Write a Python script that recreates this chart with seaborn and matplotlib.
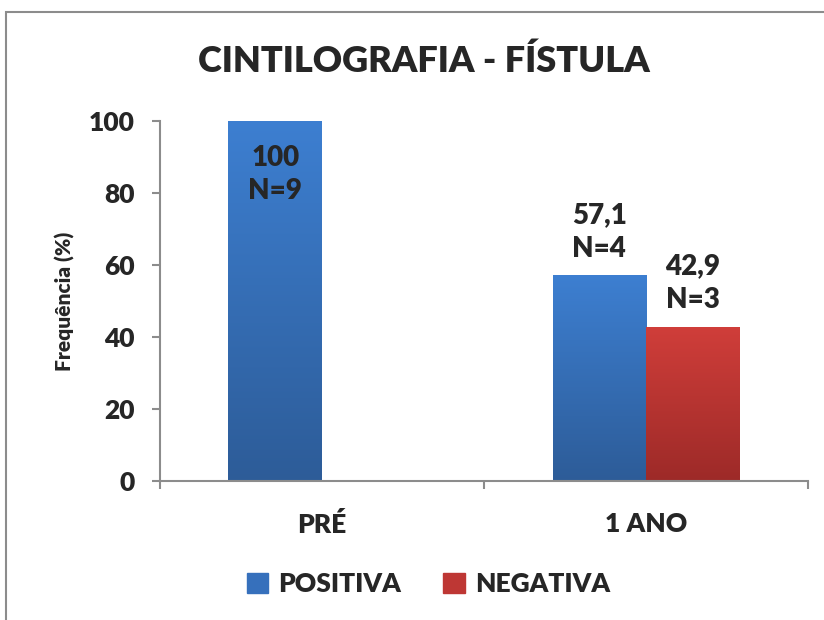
import numpy as np
import pandas as pd
import matplotlib
matplotlib.use("Agg")
import matplotlib.pyplot as plt
import seaborn as sns
from matplotlib.patches import Rectangle
from matplotlib.colors import LinearSegmentedColormap

# ---- data ----
categories = ["PRÉ", "1 ANO"]
series_names = ["POSITIVA", "NEGATIVA"]
positiva = [100, 57.1]
negativa = [0, 42.9]
n_positiva = [9, 4]
n_negativa = [0, 3]
yticks = [0, 20, 40, 60, 80, 100]
title = "CINTILOGRAFIA - FÍSTULA"
ylabel = "Frequência (%)"

df = pd.DataFrame({
    "cat": categories * 2,
    "serie": [series_names[0]] * 2 + [series_names[1]] * 2,
    "val": positiva + negativa,
    "n": n_positiva + n_negativa,
})

sns.set_theme(style="white")
plt.rcParams["font.family"] = ["Lato", "DejaVu Sans"]
W = "heavy"
plt.rcParams["font.weight"] = W

top_cols = {"POSITIVA": "#3D7FD1", "NEGATIVA": "#D03E3A"}
bot_cols = {"POSITIVA": "#2D5C98", "NEGATIVA": "#9D2A28"}
mid_cols = {"POSITIVA": "#3670BC", "NEGATIVA": "#BE3734"}

fig = plt.figure(figsize=(8.24, 6.2), dpi=100)
ax = fig.add_axes([0.194, 0.224, 0.787, 0.581])

sns.barplot(data=df, x="cat", y="val", hue="serie", order=categories,
            hue_order=series_names, palette=mid_cols, width=0.578,
            gap=0, saturation=1, ax=ax, legend=False, edgecolor="none")

# gradient overlay clipped to each bar
for cont, name in zip(ax.containers, series_names):
    cmap = LinearSegmentedColormap.from_list(name, [bot_cols[name], top_cols[name]])
    for bar in cont:
        h = bar.get_height()
        if h <= 0:
            continue
        x0 = bar.get_x()
        w = bar.get_width()
        grad = np.linspace(0, 1, 256).reshape(-1, 1)
        im = ax.imshow(grad, extent=[x0, x0 + w, 0, h], origin="lower",
                       aspect="auto", cmap=cmap, zorder=bar.get_zorder() + 0.1)
        im.set_clip_path(bar)

ax.set_xlim(-0.5, 1.5)
ax.set_ylim(0, 100)

# data labels
for cont, name in zip(ax.containers, series_names):
    sub = df[df["serie"] == name].set_index("cat").loc[categories]
    for bar, (v, n) in zip(cont, zip(sub["val"], sub["n"])):
        if v <= 0:
            continue
        txt = f"{v:g}".replace(".", ",") + f"\nN={n}"
        cx = bar.get_x() + bar.get_width() / 2
        if v >= 90:
            ax.annotate(txt, (cx, v), xytext=(0, -17), textcoords="offset points",
                        ha="center", va="top", fontsize=20, fontweight=W,
                        linespacing=1.35, zorder=5)
        else:
            ax.annotate(txt, (cx, v), xytext=(0, 10), textcoords="offset points",
                        ha="center", va="bottom", fontsize=20, fontweight=W,
                        linespacing=1.35, zorder=5)

# axes styling
for s in ["top", "right"]:
    ax.spines[s].set_visible(False)
for s in ["left", "bottom"]:
    ax.spines[s].set_color("#8C8C8C")
    ax.spines[s].set_linewidth(1.5)

ax.set_yticks(yticks)
ax.set_yticklabels([str(t) for t in yticks], fontsize=19, fontweight=W)
ax.tick_params(axis="y", direction="out", length=6, width=1.5, color="#8C8C8C",
               left=True, pad=12)
ax.set_xticks(range(len(categories)))
ax.set_xticklabels(categories, fontsize=19, fontweight=W)
ax.tick_params(axis="x", which="major", length=0, pad=22)
ax.set_xticks([-0.5, 0.5, 1.5], minor=True)
ax.tick_params(axis="x", which="minor", direction="out", length=6, width=1.5,
               color="#8C8C8C", bottom=True)
ax.set_xlabel("")
ax.set_ylabel(ylabel, fontsize=15, fontweight=W, labelpad=10)

fig.text(0.515, 0.902, title, ha="center", va="center", fontsize=26,
         fontweight=W)

handles = [Rectangle((0, 0), 1, 1, color=mid_cols[n]) for n in series_names]
fig.legend(handles, series_names, loc="center", bbox_to_anchor=(0.52, 0.058),
           ncol=2, frameon=False, prop={"size": 19, "weight": W},
           handlelength=0.8, handleheight=0.8, handletextpad=0.4,
           columnspacing=1.6)

# chart-area border
fig.patches.append(Rectangle((6 / 824, -0.05), 1.1, 1 - 12 / 620 + 0.05,
                             transform=fig.transFigure, fill=False,
                             edgecolor="#8C8C8C", linewidth=1.5))

fig.savefig("out.png", dpi=100)
